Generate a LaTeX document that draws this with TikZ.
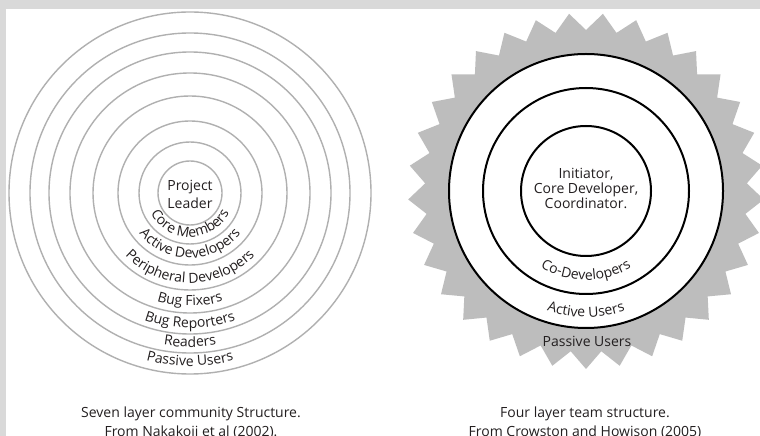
\documentclass[tikz,border=0pt]{standalone}
\usepackage{fontspec}
\setmainfont{Open Sans}
\usetikzlibrary{decorations.text}
\definecolor{bggray}{HTML}{D9D9D9}
\definecolor{ringgray}{HTML}{B0B0B0}
\definecolor{stargray}{HTML}{BDBDBD}
\definecolor{ink}{HTML}{231F20}
\newcommand{\lblfont}{\fontsize{14}{18}\selectfont}
\newcommand{\arclabel}[4]{%
  \path[decorate,decoration={text along path,text align=center,text color=ink,text={|\lblfont|#4}}]
    (#1) ++(270-#3:#2) arc[start angle=270-#3,end angle=270+#3,radius=#2];}
\begin{document}
\begin{tikzpicture}[x=1pt,y=1pt,
  ring/.style={draw=ringgray,line width=1.4pt},
  bring/.style={draw=black,line width=2pt},
  lbl/.style={font=\lblfont,text=ink,align=center,inner sep=0pt},
  ]
\useasboundingbox (0,0) rectangle (760,436);
\fill[bggray] (0,0) rectangle (760,436);
\fill[white] (6,0) rectangle (760,427);
\clip (0,0) rectangle (760,436);
\coordinate (L) at (190,243);
\coordinate (R) at (586,245);
% left: seven layers
\foreach \r in {181,160,141,120,97,72,51,32} \draw[ring] (L) circle[radius=\r];
\node[lbl] (leader) at (190,242) {Project\\Leader};
\arclabel{L}{44}{120}{Core Members}
\arclabel{L}{65}{110}{Active Developers}
\arclabel{L}{90}{100}{Peripheral Developers}
\arclabel{L}{113}{80}{Bug Fixers}
\arclabel{L}{135}{80}{Bug Reporters}
\arclabel{L}{154}{70}{Readers}
\arclabel{L}{173}{70}{Passive Users}
% right: four layers
\fill[stargray] ({586+178*cos(270)},{245+178*sin(270)})
  \foreach \k in {0,...,32} {
    -- ({586+161*cos(270+\k*360/33+180/33)},{245+161*sin(270+\k*360/33+180/33)})
    -- ({586+178*cos(270+(\k+1)*360/33)},{245+178*sin(270+(\k+1)*360/33)})
  } -- cycle;
\fill[white] (R) circle[radius=137];
\foreach \r in {137,103,65} \draw[bring] (R) circle[radius=\r];
\node[lbl,font=\fontsize{14}{15}\selectfont] (core) at (586,248) {Initiator,\\Core Developer,\\Coordinator.};
\arclabel{R}{89}{100}{Co-Developers}
\arclabel{R}{126}{80}{Active Users}
\node[lbl,anchor=base] (passR) at (587,89) {Passive Users};
% captions
\node[lbl,anchor=base] (capL1) at (191,18) {Seven layer community Structure.};
\node[lbl,anchor=base] (capL2) at (191,-1) {From Nakakoji et al (2002).};
\node[lbl,anchor=base] (capR1) at (585,18) {Four layer team structure.};
\node[lbl,anchor=base] (capR2) at (585,-1) {From Crowston and Howison (2005)};
\end{tikzpicture}
\end{document}
